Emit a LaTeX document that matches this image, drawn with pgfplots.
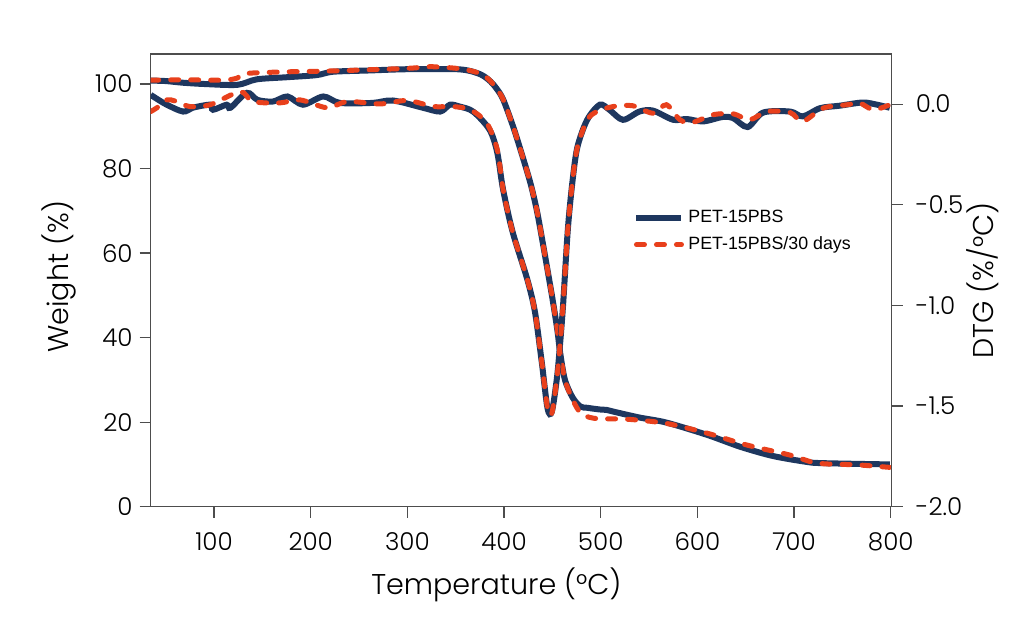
\documentclass[border=0pt]{standalone}
\usepackage{pgfplots}
\pgfplotsset{compat=1.18}
\usepackage{fontspec}
\setmainfont{Poppins}[UprightFont={* Light}]
\newfontfamily\legendfont{Liberation Sans}
\definecolor{navy}{HTML}{1E375F}
\definecolor{redd}{HTML}{E8401C}
\definecolor{axisgray}{HTML}{4D4D4D}

\pgfplotstableread{
x y
34.5 100.8
50 100.7
68 100.3
90 100.0
124 99.8
144 101.1
175 101.6
206 102.1
223 102.9
260 103.2
300 103.5
351 103.5
368 102.9
378 102.0
386 100.6
392 99.0
399 96.4
409 90.2
416 85.2
427 76.8
434 70.0
440 62.5
449.5 50.0
455 42.0
458 36.5
463 30.0
471 25.8
479 23.7
486 23.4
499 23.0
506 22.9
513 22.5
540 21.1
568 19.9
610 17.0
644 14.2
678 12.0
713 10.6
730 10.3
799 10.0
}\tgA

\pgfplotstableread{
x y
34.5 100.9
68 101.0
109 100.9
124 101.4
134 102.5
179 102.9
223 103.1
300 103.7
323 104.1
351 103.7
368 103.0
378 102.2
386 100.7
392 99.0
399 96.4
409 90.2
416 85.2
427 76.8
434 70.0
440 62.5
449.5 50.0
455 42.0
458 36.5
463 30.0
471 25.3
479 22.2
489 21.1
500 20.8
527 20.7
568 19.7
610 17.4
651 14.6
696 12.2
724 10.3
765 9.9
799 9.3
}\tgB

\pgfplotstableread{
x y
34.5 0.046
50 0.00
68 -0.037
78 -0.018
96 -0.003
99 -0.028
113 -0.003
117 -0.018
134 0.056
145 0.021
161 0.013
176 0.038
192 -0.003
213 0.038
230 0.006
264 0.006
285 0.018
316 -0.018
334 -0.037
344 -0.003
354 -0.012
368 -0.037
385 -0.127
393 -0.241
399 -0.424
409 -0.637
424 -0.870
432 -1.033
439 -1.281
445 -1.512
449.5 -1.527
454.7 -1.361
457.8 -1.201
461 -1.003
466 -0.622
471 -0.375
476 -0.211
486 -0.078
499 -0.003
509 -0.028
523 -0.078
540 -0.037
554 -0.032
575 -0.078
589 -0.074
606 -0.086
626 -0.064
637 -0.069
652 -0.114
668 -0.042
696 -0.037
709 -0.061
727 -0.020
747 -0.008
771 0.008
786 -0.003
799 -0.018
}\dtgA

\pgfplotstableread{
x y
34.5 -0.037
41 -0.018
51 0.021
60 0.015
75 -0.012
96 -0.003
127 0.062
140 0.013
168 0.006
189 0.021
217 -0.018
238 0.013
272 0.001
300 0.018
327 -0.012
347 -0.012
365 -0.028
382 -0.093
393 -0.226
399 -0.424
409 -0.637
424 -0.870
432 -1.033
439 -1.281
445 -1.512
449.5 -1.535
454.7 -1.361
457.8 -1.201
461 -1.003
466 -0.622
471 -0.375
476 -0.211
486 -0.080
496 -0.037
513 -0.012
533 -0.008
554 -0.045
568 -0.003
582 -0.078
595 -0.091
616 -0.053
637 -0.048
654 -0.078
672 -0.037
696 -0.042
709 -0.086
730 -0.020
755 -0.003
768 0.005
782 -0.028
799 -0.003
}\dtgB

\pgfplotsset{
 common/.style={
  width=370.5pt, height=226.35pt, scale only axis,
  at={(0pt,0pt)}, anchor=south west,
  xmin=34.5, xmax=801,
  axis line style={draw=axisgray, line width=0.6pt},
  tick style={draw=axisgray, line width=0.6pt},
  major tick length=5.5pt,
  tick align=outside,
  ticklabel style={font=\fontsize{12.3}{14}\selectfont, text=black},
  /pgf/number format/assume math mode=true,
 },
 solidS/.style={navy, line width=3pt, smooth, tension=0.5},
 dashS/.style={redd, line width=2.5pt, line cap=round, dash pattern=on 4pt off 6pt, smooth, tension=0.5},
}

\begin{document}
\begin{tikzpicture}
\path[use as bounding box] (-75.35pt,-67.65pt) rectangle (436.65pt,253.35pt);
\begin{axis}[common,
  ymin=0, ymax=107.1,
  xtick={100,200,...,800}, ytick={0,20,40,60,80,100},
  xtick pos=bottom, ytick pos=left,
  xticklabel style={yshift=-4pt},
  xlabel={Temperature (°C)}, ylabel={Weight (\%)},
  every axis x label/.style={at={(axis description cs:0.4665,-0.173)}, anchor=center, font=\fontsize{14.3}{17}\selectfont},
  every axis y label/.style={at={(axis description cs:-0.1237,0.508)}, rotate=90, anchor=center, font=\fontsize{14.3}{17}\selectfont},
  legend style={at={(axis description cs:0.651,0.608)}, anchor=west, draw=none, fill=none,
    font=\legendfont\fontsize{8.9}{10}\selectfont, inner sep=0pt, row sep=1.5pt},
  legend cell align=left,
  legend image code/.code={\draw[#1] (0pt,0pt) -- (22.5pt,0pt);},
]
\addplot[solidS] table[x=x,y=y] {\tgA}; \addlegendentry{PET-15PBS}
\addplot[dashS] table[x=x,y=y] {\tgB}; \addlegendentry{PET-15PBS/30 days}
\end{axis}
\begin{axis}[common,
  ymin=-2, ymax=0.249,
  axis x line=none, axis y line*=right, axis line style={-},
  ytick={-2,-1.5,-1,-0.5,0},
  yticklabels={-2.0,-1.5,-1.0,-0.5,0.0},
  yticklabel style={xshift=3pt, anchor=west},
  ylabel={DTG (\%/°C)},
  every axis y label/.style={at={(axis description cs:1.123,0.5)}, rotate=90, anchor=center, font=\fontsize{14.3}{17}\selectfont},
]
\addplot[solidS] table[x=x,y=y] {\dtgA};
\addplot[dashS] table[x=x,y=y] {\dtgB};
\end{axis}
\end{tikzpicture}
\end{document}
